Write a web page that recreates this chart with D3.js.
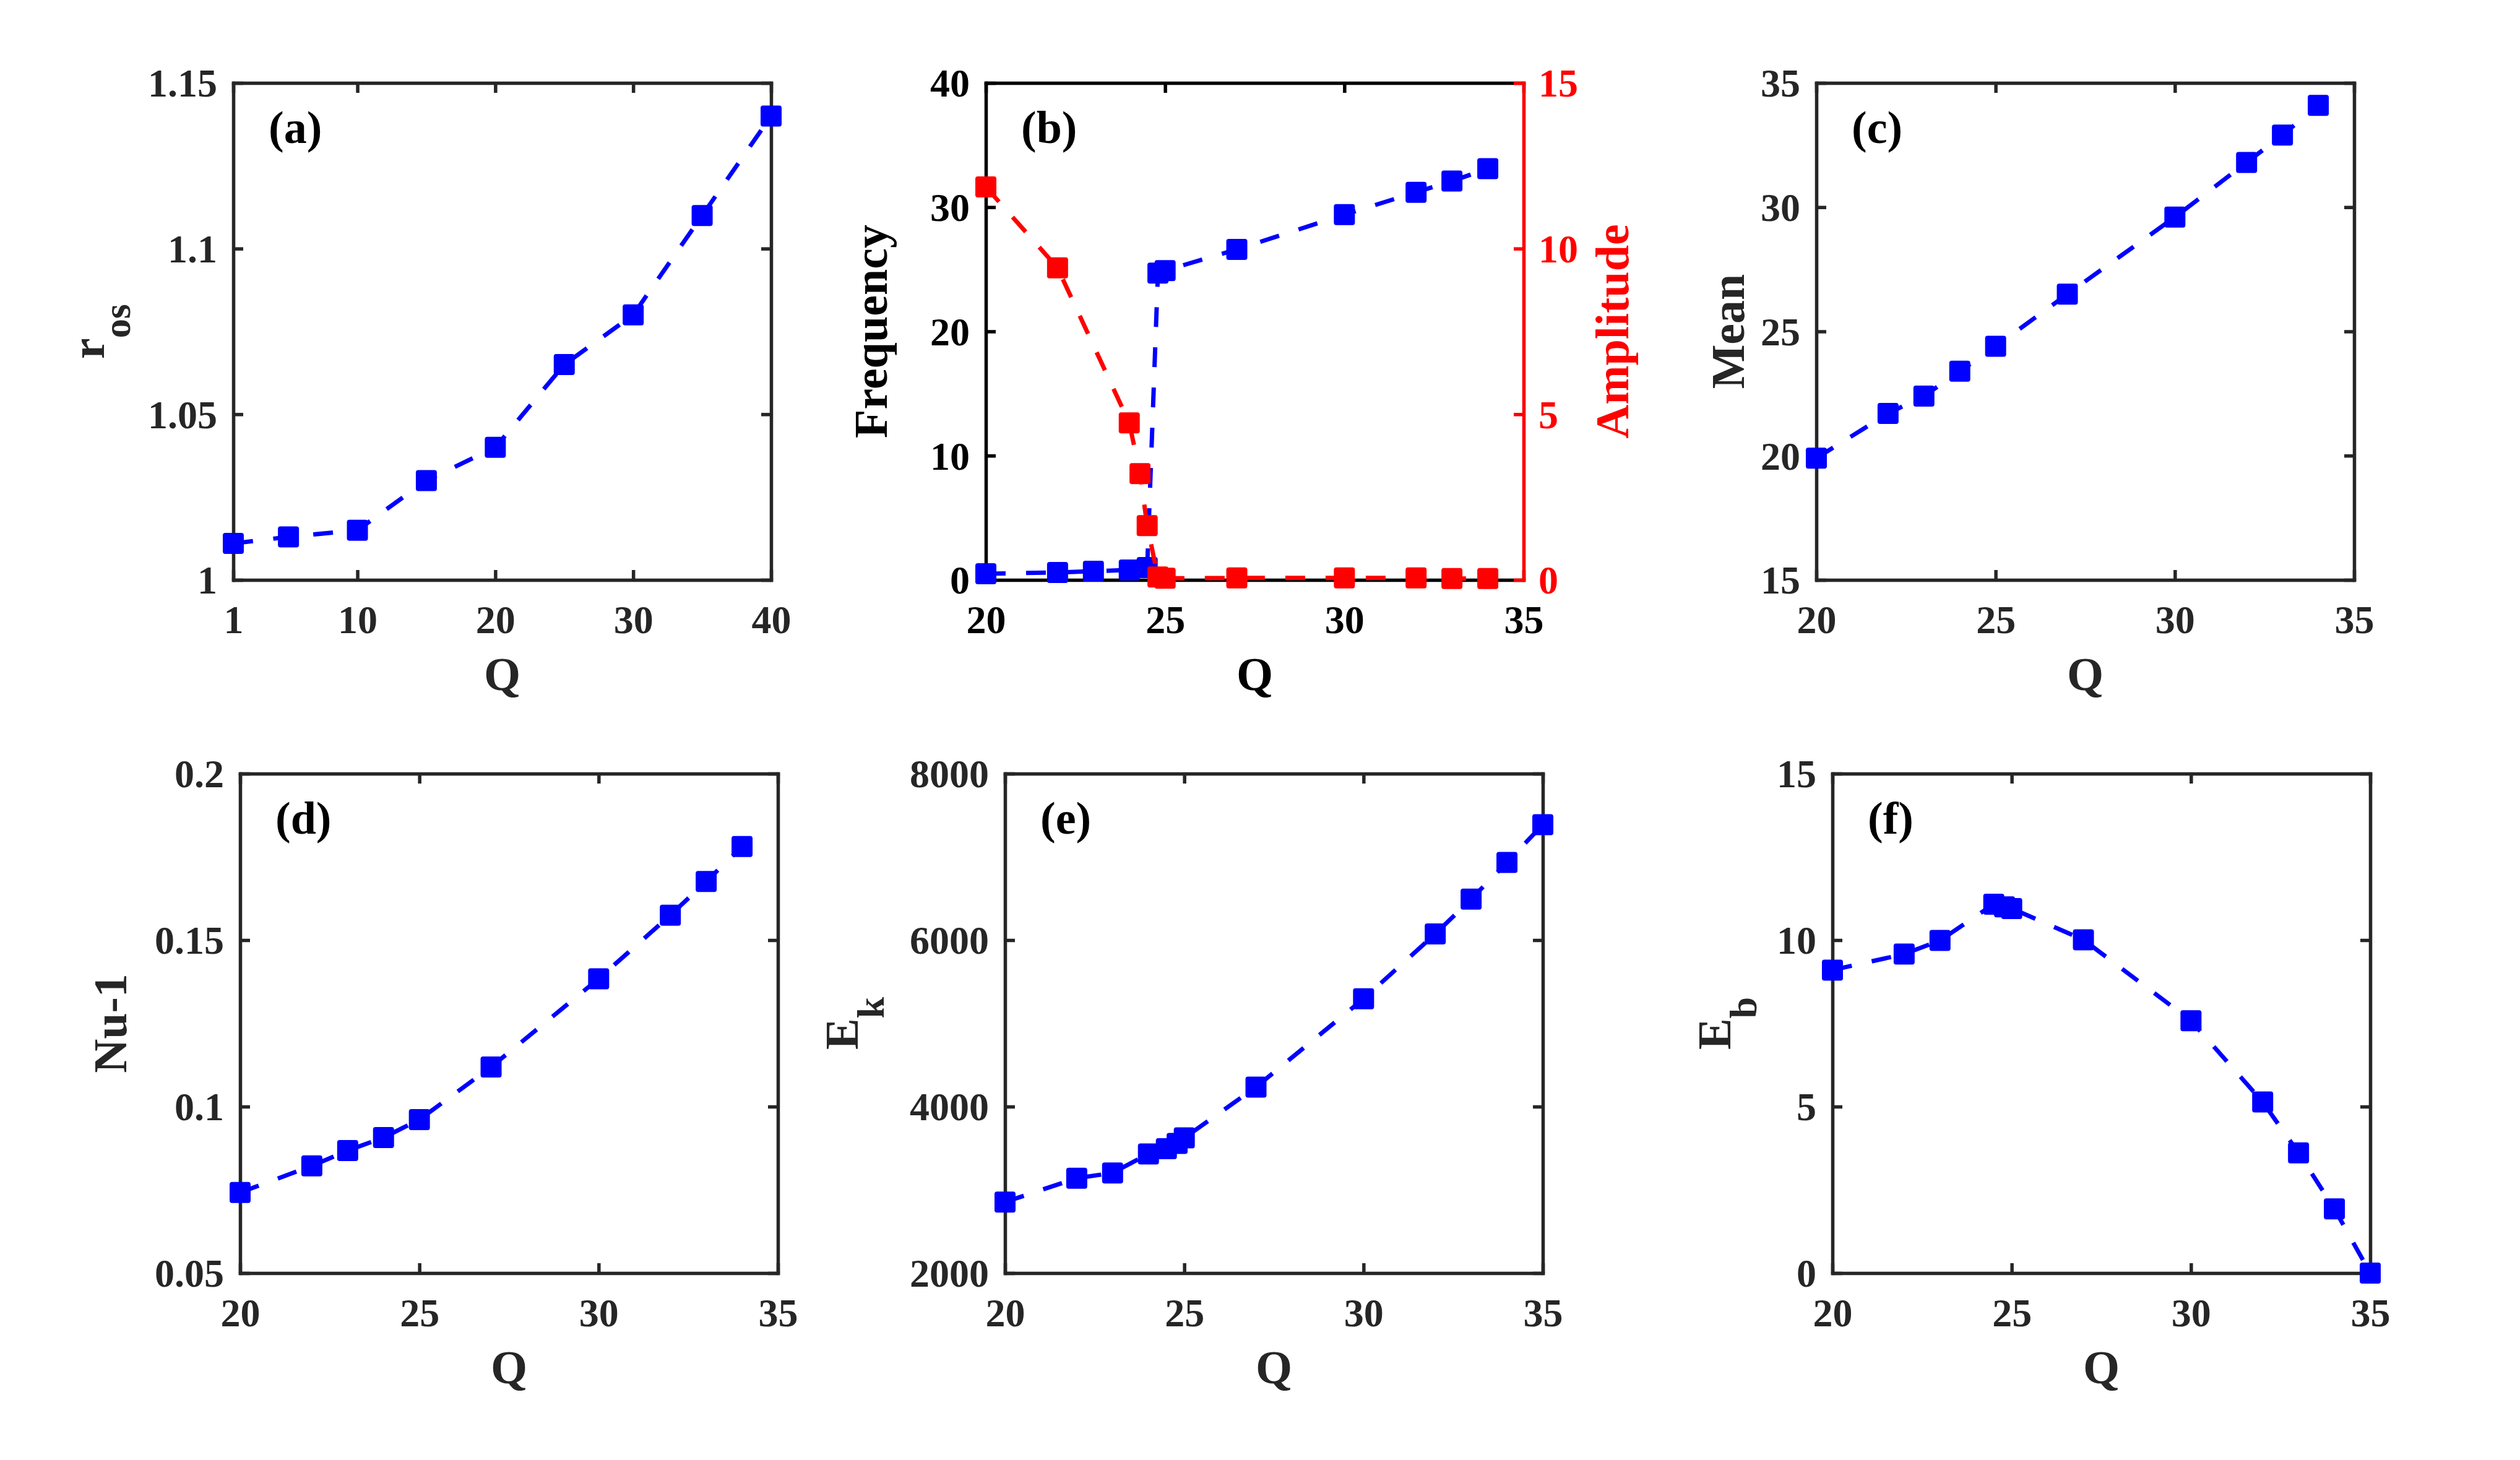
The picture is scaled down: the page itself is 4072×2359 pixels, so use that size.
<!DOCTYPE html>
<html>
<head>
<meta charset="utf-8">
<script src="https://cdn.jsdelivr.net/npm/d3@7"></script>
<style>
  body { margin: 0; background: #fff; }
  text { font-family: "Liberation Serif", "Times New Roman", serif; font-weight: bold; }
</style>
</head>
<body>
<div id="chart"></div>
<script>
// ---- data ----
var qA = [1, 5, 10, 15, 20, 25, 30, 35, 40];
var rOs = [1.011, 1.013, 1.015, 1.030, 1.040, 1.065, 1.080, 1.110, 1.140];

var qFreq = [20, 22, 23, 24, 24.5, 24.8, 25, 27, 30, 32, 33, 34];
var frequency = [0.5, 0.6, 0.7, 0.8, 1.0, 24.7, 24.9, 26.6, 29.4, 31.2, 32.1, 33.1];
var qAmp = [20, 22, 24, 24.3, 24.5, 24.8, 25, 27, 30, 32, 33, 34];
var amplitude = [11.86, 9.42, 4.74, 3.21, 1.64, 0.09, 0.05, 0.06, 0.06, 0.06, 0.04, 0.04];

var qMean = [20, 22, 23, 24, 25, 27, 30, 32, 33, 34];
var meanVal = [19.9, 21.7, 22.4, 23.4, 24.4, 26.5, 29.6, 31.8, 32.9, 34.1];

var qNu = [20, 22, 23, 24, 25, 27, 30, 32, 33, 34];
var nuMinus1 = [0.0742, 0.0822, 0.0868, 0.0907, 0.0961, 0.1119, 0.1384, 0.1575, 0.1676, 0.1781];

var qEk = [20, 22, 23, 24, 24.5, 24.8, 25, 27, 30, 32, 33, 34, 35];
var ek = [2854, 3140, 3203, 3432, 3494, 3557, 3624, 4235, 5295, 6075, 6493, 6934, 7387];

var qEb = [20, 22, 23, 24.5, 24.8, 25, 27, 30, 32, 33, 34, 35];
var eb = [9.10, 9.58, 9.99, 11.08, 11.0, 10.95, 10.01, 7.58, 5.14, 3.61, 1.93, 0];

// tick values / labels
var ticksQa = [1, 10, 20, 30, 40];
var ticksQ = [20, 25, 30, 35];
var ticksRos = [1, 1.05, 1.1, 1.15];
var labelsRos = ["1", "1.05", "1.1", "1.15"];
var ticksFreq = [0, 10, 20, 30, 40];
var ticksAmp = [0, 5, 10, 15];
var ticksMean = [15, 20, 25, 30, 35];
var ticksNu = [0.05, 0.1, 0.15, 0.2];
var labelsNu = ["0.05", "0.1", "0.15", "0.2"];
var ticksEk = [2000, 4000, 6000, 8000];
var ticksEb = [0, 5, 10, 15];

var W = 4072, H = 2359;
var BLUE = "#0000ff", RED = "#ff0000", GREY = "#262626";
var tickFont = 64, labelFont = 76;
var mk = 34; // marker size

var svg = d3.select("#chart").append("svg")
  .attr("width", W).attr("height", H)
  .style("display", "block");
svg.append("rect").attr("width", W).attr("height", H).attr("fill", "#fff");

var rowTop = [134, 1250], rowBottom = [937, 2057];

var panels = [
  {tag: "(a)", left: 377, row: 0, xdom: [1, 40], xt: ticksQa, ydom: [1, 1.15], yt: ticksRos, yl: labelsRos,
   ylab: ["r", "os"], yoff: 209, series: [{q: qA, v: rOs}]},
  {tag: "(b)", left: 1593, row: 0, xdom: [20, 35], xt: ticksQ, ydom: [0, 40], yt: ticksFreq,
   ylab: ["Frequency"], yoff: 160, dual: true, series: [{q: qFreq, v: frequency}]},
  {tag: "(c)", left: 2935, row: 0, xdom: [20, 35], xt: ticksQ, ydom: [15, 35], yt: ticksMean,
   ylab: ["Mean"], yoff: 117, series: [{q: qMean, v: meanVal}]},
  {tag: "(d)", left: 388, row: 1, xdom: [20, 35], xt: ticksQ, ydom: [0.05, 0.2], yt: ticksNu, yl: labelsNu,
   ylab: ["Nu-1"], yoff: 184, series: [{q: qNu, v: nuMinus1}]},
  {tag: "(e)", left: 1624, row: 1, xdom: [20, 35], xt: ticksQ, ydom: [2000, 8000], yt: ticksEk,
   ylab: ["E", "k"], yoff: 238, series: [{q: qEk, v: ek}]},
  {tag: "(f)", left: 2961, row: 1, xdom: [20, 35], xt: ticksQ, ydom: [0, 15], yt: ticksEb,
   ylab: ["E", "b"], yoff: 165, series: [{q: qEb, v: eb}]}
];

var panelWidth = 869;

function styleAxis(g, color) {
  g.selectAll("path.domain").attr("stroke", color).attr("stroke-width", 5.5)
    .attr("stroke-linecap", "square");
  g.selectAll(".tick line").attr("stroke", color).attr("stroke-width", 5.5);
  g.selectAll(".tick text").attr("fill", color).attr("font-size", tickFont)
    .attr("font-family", "Liberation Serif, serif").attr("font-weight", "bold");
}

function drawSeries(g, x, y, q, v, color) {
  var pts = q.map(function(d, i){ return [d, v[i]]; });
  var line = d3.line()
    .x(function(d){ return x(d[0]); })
    .y(function(d){ return y(d[1]); });
  g.append("path")
    .attr("d", line(pts))
    .attr("fill", "none")
    .attr("stroke", color)
    .attr("stroke-width", 7)
    .attr("stroke-dasharray", "32,33");
  g.selectAll(null)
    .data(pts)
    .enter()
    .append("rect")
    .attr("x", function(d){ return x(d[0]) - mk / 2; })
    .attr("y", function(d){ return y(d[1]) - mk / 2; })
    .attr("width", mk)
    .attr("height", mk)
    .attr("rx", 4)
    .attr("fill", color);
}

panels.forEach(function(p){
  var top = rowTop[p.row], bottom = rowBottom[p.row];
  var left = p.left, right = p.left + panelWidth;
  var axisColor = p.dual ? "#000" : GREY;

  var x = d3.scaleLinear().domain(p.xdom).range([left, right]);
  var y = d3.scaleLinear().domain(p.ydom).range([bottom, top]);
  var g = svg.append("g");

  // bottom axis with labels
  var gb = g.append("g").attr("transform", "translate(0," + bottom + ")")
    .call(d3.axisBottom(x).tickValues(p.xt).tickSize(-16).tickSizeOuter(0).tickPadding(41)
      .tickFormat(function(d){ return String(d); }));
  styleAxis(gb, axisColor);

  // top axis, ticks only
  var gt = g.append("g").attr("transform", "translate(0," + top + ")")
    .call(d3.axisTop(x).tickValues(p.xt).tickSize(-16).tickSizeOuter(0).tickFormat(""));
  styleAxis(gt, axisColor);

  // left axis
  var gl = g.append("g").attr("transform", "translate(" + left + ",0)")
    .call(d3.axisLeft(y).tickValues(p.yt).tickSize(-16).tickSizeOuter(0).tickPadding(26)
      .tickFormat(function(d, i){ return p.yl ? p.yl[i] : String(d); }));
  styleAxis(gl, axisColor);
  gl.selectAll(".tick text").attr("dy", "0.34em");

  if (p.dual) {
    var y2 = d3.scaleLinear().domain([0, 15]).range([bottom, top]);
    var gr = g.append("g").attr("transform", "translate(" + right + ",0)")
      .call(d3.axisRight(y2).tickValues(ticksAmp).tickSize(-16).tickSizeOuter(0).tickPadding(24));
    styleAxis(gr, RED);
    gr.selectAll(".tick text").attr("dy", "0.34em");

    drawSeries(g, x, y, qFreq, frequency, BLUE);
    drawSeries(g, x, y2, qAmp, amplitude, RED);

    g.append("text")
      .attr("transform", "translate(" + (right + 169) + "," + ((top + bottom) / 2) + ") rotate(-90)")
      .attr("text-anchor", "middle")
      .attr("font-size", labelFont)
      .attr("fill", RED)
      .text("Amplitude");
  } else {
    var gr2 = g.append("g").attr("transform", "translate(" + right + ",0)")
      .call(d3.axisRight(y).tickValues(p.yt).tickSize(-16).tickSizeOuter(0).tickFormat(""));
    styleAxis(gr2, axisColor);
    p.series.forEach(function(s){ drawSeries(g, x, y, s.q, s.v, BLUE); });
  }

  // x label
  g.append("text")
    .attr("x", (left + right) / 2)
    .attr("y", bottom + 178)
    .attr("text-anchor", "middle")
    .attr("font-size", labelFont)
    .attr("fill", axisColor)
    .text("Q");

  // y label (with optional subscript)
  var yl = g.append("text")
    .attr("transform", "translate(" + (left - p.yoff) + "," + ((top + bottom) / 2) + ") rotate(-90)")
    .attr("text-anchor", "middle")
    .attr("font-size", labelFont)
    .attr("fill", axisColor);
  yl.append("tspan").text(p.ylab[0]);
  if (p.ylab.length > 1) {
    yl.append("tspan").attr("dy", 42).attr("font-size", 62).text(p.ylab[1]);
  }

  // panel tag
  g.append("text")
    .attr("x", left + 57)
    .attr("y", top + 97)
    .attr("font-size", 74)
    .attr("fill", "#000")
    .text(p.tag);
});
</script>
</body>
</html>
